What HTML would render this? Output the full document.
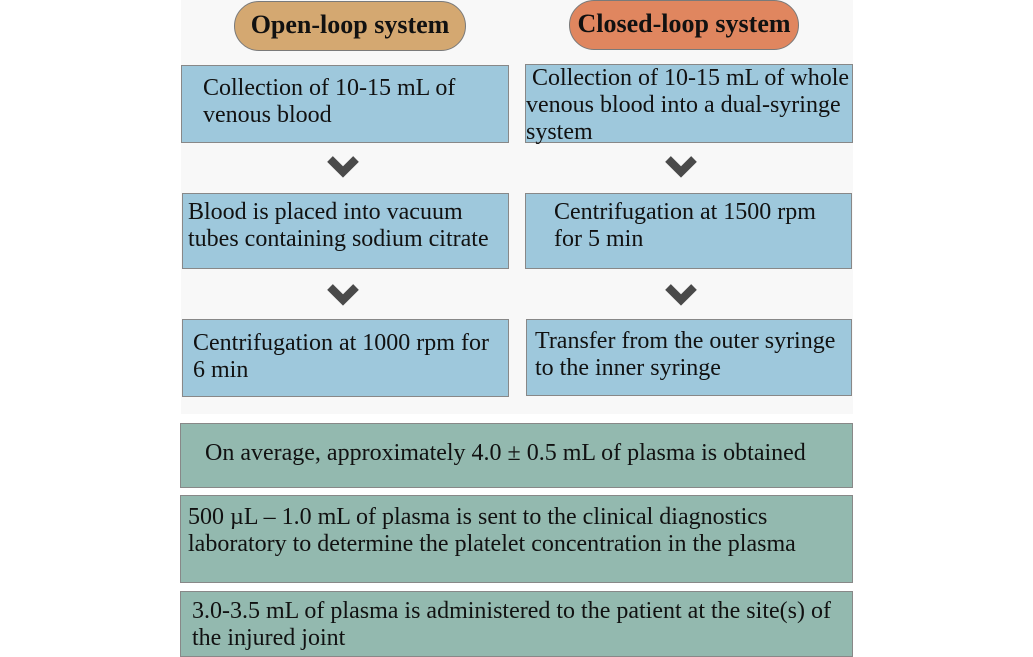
<!DOCTYPE html>
<html><head><meta charset="utf-8"><style>
body{margin:0;width:1033px;height:657px;background:#fff;position:relative;overflow:hidden;font-family:"Liberation Serif",serif;color:#111}
.bg{position:absolute;left:181px;top:0;width:672px;height:414px;background:#f8f8f8}
.pill{position:absolute;height:50px;border:1.5px solid #7a7a7a;border-radius:25px;box-sizing:border-box;font-weight:bold;font-size:26px;text-align:center;line-height:46px;white-space:nowrap}
.b{position:absolute;box-sizing:border-box;border:1.5px solid #888;font-size:24px;line-height:27px;white-space:nowrap}
.blue{background:#9ec8dc}
.green{background:#93b9af}
.chev{position:absolute}
</style></head><body>
<div class="bg"></div>
<div class="pill" style="left:234px;top:1px;width:232px;background:#d4a871">Open-loop system</div>
<div class="pill" style="left:569px;top:0px;width:230px;background:#e0865f">Closed-loop system</div>

<div class="b blue" style="left:181px;top:65px;width:328px;height:78px;padding:9px 0 0 21px">Collection of 10-15 mL of<br>venous blood</div>
<div class="b blue" style="left:525px;top:64px;width:328px;height:79px;padding:0 0 0 0;line-height:27px">&nbsp;Collection of 10-15 mL of whole<br>venous blood into a dual-syringe<br>system</div>

<div class="b blue" style="left:182px;top:193px;width:327px;height:76px;padding:5px 0 0 5px">Blood is placed into vacuum<br>tubes containing sodium citrate</div>
<div class="b blue" style="left:525px;top:193px;width:327px;height:76px;padding:5px 0 0 28px">Centrifugation at 1500 rpm<br>for 5 min</div>

<div class="b blue" style="left:182px;top:319px;width:327px;height:78px;padding:10px 0 0 10px">Centrifugation at 1000 rpm for<br>6 min</div>
<div class="b blue" style="left:526px;top:319px;width:326px;height:77px;padding:8px 0 0 8px">Transfer from the outer syringe<br>to the inner syringe</div>

<div class="b green" style="left:180px;top:423px;width:673px;height:65px;padding:16px 0 0 24px">On average, approximately 4.0 ± 0.5 mL of plasma is obtained</div>
<div class="b green" style="left:180px;top:495px;width:673px;height:88px;padding:8px 0 0 7px">500 µL – 1.0 mL of plasma is sent to the clinical diagnostics<br>laboratory to determine the platelet concentration in the plasma</div>
<div class="b green" style="left:180px;top:591px;width:673px;height:66px;padding:6px 0 0 11px">3.0-3.5 mL of plasma is administered to the patient at the site(s) of<br>the injured joint</div>

<svg class="chev" style="left:326px;top:155px" width="34" height="24"><polyline points="4,4 17,17 30,4" fill="none" stroke="#4a4a4a" stroke-width="8"/></svg>
<svg class="chev" style="left:664px;top:155px" width="34" height="24"><polyline points="4,4 17,17 30,4" fill="none" stroke="#4a4a4a" stroke-width="8"/></svg>
<svg class="chev" style="left:326px;top:283px" width="34" height="24"><polyline points="4,4 17,17 30,4" fill="none" stroke="#4a4a4a" stroke-width="8"/></svg>
<svg class="chev" style="left:664px;top:283px" width="34" height="24"><polyline points="4,4 17,17 30,4" fill="none" stroke="#4a4a4a" stroke-width="8"/></svg>
</body></html>
